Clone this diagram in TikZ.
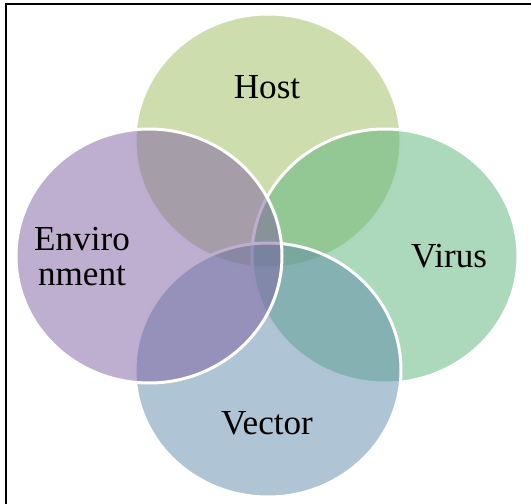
\documentclass[tikz,border=0pt]{standalone}
\usepackage{fontspec}
\setmainfont{Liberation Serif}
\usepackage{tikz}
\usepackage{xcolor}
\definecolor{host-green}{RGB}{157,187,93}
\definecolor{virus-green}{RGB}{89,179,121}
\definecolor{vector-blue}{RGB}{95,137,169}
\definecolor{env-purple}{RGB}{125,95,161}
\tikzset{
    venn-circle/.style = {draw=white, line width=0.06cm, fill opacity=0.5, draw opacity=1},
    venn-label/.style = {font=\fontsize{20}{19.5}\selectfont, align=center, text=black, inner sep=0pt},
}

\begin{document}
\begin{tikzpicture}
\useasboundingbox (0,0) rectangle (10.62,-10.08);
\draw[line width=0.04cm] (0.12,-10.08) -- (0.12,-0.08) -- (10.62,-0.08);

% the four sets, drawn back to front
\filldraw[venn-circle, fill=host-green]  (5.36,-2.82) ellipse [x radius=2.66, y radius=2.54];
\filldraw[venn-circle, fill=virus-green] (7.70,-5.12) ellipse [x radius=2.66, y radius=2.54];
\filldraw[venn-circle, fill=vector-blue] (5.36,-7.40) ellipse [x radius=2.66, y radius=2.54];
\filldraw[venn-circle, fill=env-purple]  (2.98,-5.12) ellipse [x radius=2.66, y radius=2.54];

\node[venn-label] (host) at (5.34,-1.74) {Host};
\node[venn-label] (virus) at (8.98,-5.12) {Virus};
\node[venn-label] (vector) at (5.34,-8.46) {Vector};
\node[venn-label] (environment) at (1.64,-5.13) {Enviro\\nment};
\end{tikzpicture}
\end{document}
